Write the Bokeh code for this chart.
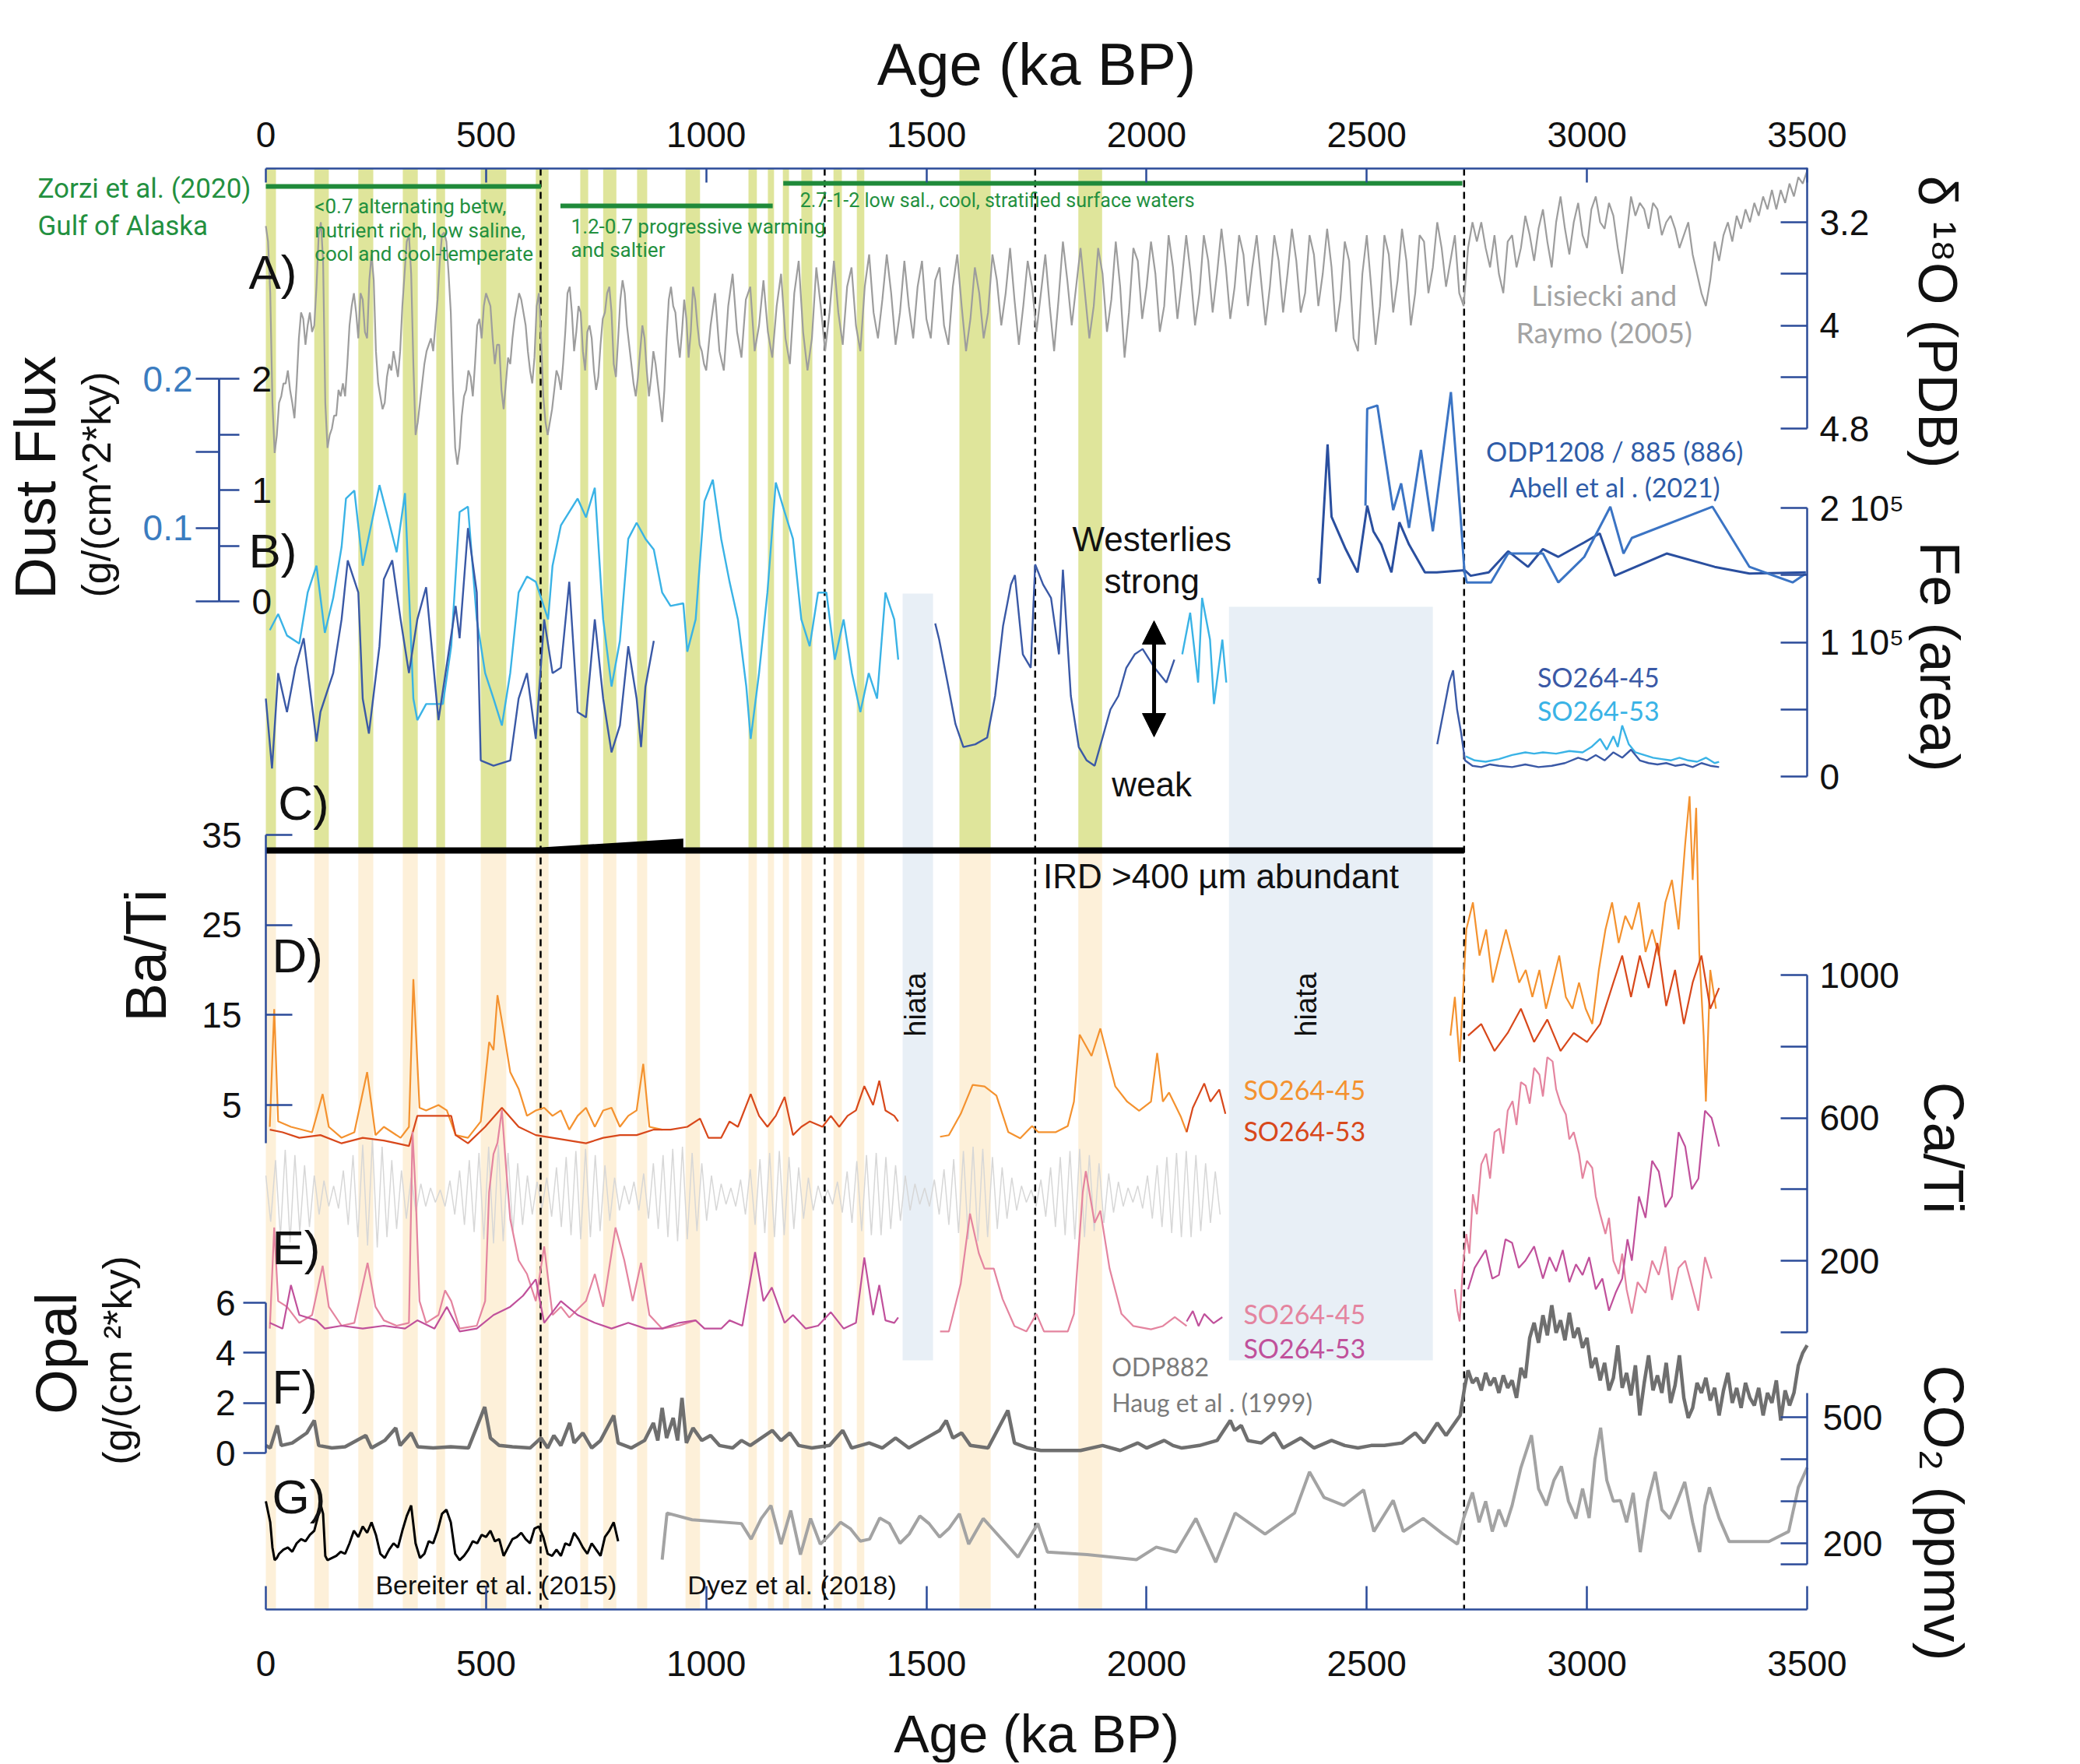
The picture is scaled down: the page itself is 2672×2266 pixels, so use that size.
import numpy as np
from bokeh.plotting import figure
from bokeh.models import Range1d, LinearAxis, FixedTicker, Arrow, NormalHead
from bokeh.embed import file_html
from bokeh.resources import INLINE
from bokeh.core.properties import value

# ======================= DATA =======================
age_ticks = [0, 500, 1000, 1500, 2000, 2500, 3000, 3500]
dashed_ages = [624, 1269, 1747, 2721]
band_start = [0, 110, 210, 311, 387, 488, 613, 714, 766, 843, 953, 1096, 1140, 1174, 1216, 1289, 1342, 1575, 1845]
band_end = [23, 143, 244, 345, 407, 546, 642, 732, 796, 866, 986, 1115, 1154, 1188, 1241, 1308, 1359, 1646, 1899]
hiatus_start = [1446, 2187]
hiatus_end = [1515, 2650]
zorzi_start = [0, 669, 1175]
zorzi_end = [625, 1151, 2717]
ird_age = [0, 626, 948, 948, 2721]
ird_level = [1, 1, 2.4, 1, 1]

# A) LR04 benthic d18O
lr04_age = list(range(0, 1001, 5)) + list(range(1010, 3501, 10))
lr04_val = [
    3.23, 3.35, 3.75, 4.6, 4.99, 4.85, 4.6, 4.55, 4.45, 4.45,
    4.35, 4.5, 4.6, 4.72, 4.45, 4.1, 3.9, 3.95, 4.15, 4.0,
    3.9, 4.05, 4.0, 3.7, 3.3, 3.2, 3.5, 4.6, 4.95, 4.85,
    4.8, 4.7, 4.7, 4.5, 4.55, 4.45, 4.55, 4.3, 4.0, 3.85,
    3.75, 3.9, 4.1, 3.75, 3.8, 4.05, 4.1, 3.65, 3.45, 3.65,
    4.2, 4.45, 4.55, 4.65, 4.6, 4.4, 4.3, 4.35, 4.2, 4.3,
    4.4, 4.2, 3.85, 3.6, 3.35, 3.3, 3.6, 4.3, 4.85, 4.75,
    4.6, 4.45, 4.3, 4.2, 4.15, 4.1, 4.2, 4.0, 3.8, 3.5,
    3.3, 3.28, 3.35, 3.6, 3.9, 4.5, 4.95, 5.08, 4.95, 4.7,
    4.55, 4.5, 4.35, 4.4, 4.55, 4.3, 4.0, 3.95, 4.1, 3.85,
    3.75, 3.8, 3.85, 4.1, 4.3, 4.15, 4.15, 4.5, 4.65, 4.45,
    4.25, 4.3, 4.1, 3.95, 3.85, 3.75, 3.8, 3.9, 4.0, 4.2,
    4.35, 4.45, 4.25, 3.85, 3.75, 4.1, 4.55, 4.75, 4.85, 4.75,
    4.65, 4.5, 4.35, 4.4, 4.5, 4.3, 4.05, 3.75, 3.7, 3.9,
    4.2, 4.05, 3.85, 3.9, 4.2, 4.35, 4.05, 4.0, 4.1, 4.35,
    4.5, 4.4, 4.15, 3.95, 3.9, 3.75, 3.7, 3.9, 4.3, 4.4,
    4.1, 3.8, 3.65, 3.75, 4.0, 4.15, 4.3, 4.45, 4.55, 4.4,
    4.2, 4.0, 4.1, 4.35, 4.55, 4.4, 4.2, 4.3, 4.45, 4.6,
    4.75, 4.5, 4.1, 3.8, 3.7, 3.85, 3.9, 4.1, 4.25, 4.05,
    3.8, 3.95, 4.25, 4.05, 3.7, 3.8, 4.0, 4.15, 4.2, 4.3,
    4.35,
    4.0, 3.75, 4.2, 4.35, 3.85, 3.6, 4.05, 4.25, 3.8, 3.7,
    4.2, 4.0, 3.65, 4.05, 4.25, 3.85, 3.6, 4.1, 4.3, 3.75,
    3.5, 4.05, 4.35, 4.1, 3.55, 3.85, 4.2, 3.9, 3.5, 3.9,
    4.15, 3.7, 3.55, 4.0, 4.2, 3.7, 3.45, 3.9, 4.1, 3.8,
    3.45, 3.75, 4.15, 3.9, 3.5, 3.85, 4.1, 3.7, 3.5, 3.95,
    4.1, 3.65, 3.55, 4.0, 4.15, 3.7, 3.45, 3.85, 4.2, 3.95,
    3.55, 3.75, 4.1, 3.9, 3.45, 3.65, 4.0, 3.75, 3.4, 3.8,
    4.15, 3.85, 3.5, 3.7, 4.05, 3.75, 3.45, 3.85, 4.2, 3.8,
    3.35, 3.65, 4.0, 3.7, 3.4, 3.75, 4.1, 3.85, 3.4, 3.6,
    4.05, 3.8, 3.35, 3.7, 4.25, 3.9, 3.4, 3.5, 3.95, 3.7,
    3.35, 3.6, 4.05, 3.85, 3.3, 3.55, 3.95, 3.65, 3.3, 3.6,
    4.0, 3.75, 3.3, 3.5, 3.9, 3.6, 3.25, 3.55, 3.95, 3.7,
    3.3, 3.45, 3.85, 3.55, 3.3, 3.65, 4.0, 3.7, 3.3, 3.5,
    3.9, 3.6, 3.25, 3.5, 3.9, 3.75, 3.3, 3.45, 3.85, 3.6,
    3.25, 3.55, 4.05, 3.8, 3.35, 3.5, 4.1, 4.2, 3.6, 3.3,
    3.7, 4.15, 3.85, 3.3, 3.45, 3.9, 3.65, 3.25, 3.5, 4.0,
    3.75, 3.3, 3.35, 3.75, 3.55, 3.2, 3.4, 3.7, 3.5, 3.3,
    3.75, 3.85, 3.4, 3.2, 3.35, 3.2, 3.4, 3.55, 3.3, 3.6,
    3.75, 3.35, 3.3, 3.55, 3.4, 3.15, 3.3, 3.5, 3.25, 3.1,
    3.35, 3.55, 3.2, 3.0, 3.25, 3.45, 3.2, 3.05, 3.3, 3.4,
    3.1, 3.0, 3.2, 3.25, 3.05, 3.15, 3.4, 3.6, 3.3, 3.0,
    3.15, 3.05, 3.1, 3.25, 3.05, 3.1, 3.3, 3.2, 3.15, 3.25,
    3.4, 3.3, 3.2, 3.45, 3.6, 3.75, 3.85, 3.65, 3.35, 3.5,
    3.3, 3.2, 3.35, 3.15, 3.25, 3.1, 3.2, 3.05, 3.15, 3.0,
    3.1, 2.95, 3.1, 2.95, 3.05, 2.9, 3.0, 2.85, 2.9, 2.8]

# B) Dust flux ODP1208 / 885 (Abell et al. 2021), g/(cm2 ky)
odp1_age = [2389, 2393, 2411, 2420, 2452, 2479, 2501, 2515, 2533, 2556, 2574, 2596, 2632, 2659, 2722,
            2736, 2777, 2821, 2866, 2900, 2935, 2994, 3029, 3063, 3181, 3290, 3369, 3497]
odp1_val = [0.21, 0.16, 1.41, 0.76, 0.47, 0.26, 0.86, 0.63, 0.51, 0.26, 0.71, 0.51, 0.26, 0.26, 0.28,
            0.23, 0.26, 0.45, 0.31, 0.47, 0.40, 0.53, 0.61, 0.23, 0.43, 0.31, 0.25, 0.26]
odp2_age = [2497, 2501, 2524, 2560, 2578, 2596, 2623, 2650, 2691, 2713, 2722, 2727, 2782, 2821, 2900,
            2935, 2994, 3053, 3083, 3102, 3285, 3369, 3467, 3497]
odp2_val = [0.86, 1.73, 1.76, 0.82, 1.06, 0.66, 1.36, 0.63, 1.88, 0.76, 0.26, 0.17, 0.17, 0.43, 0.43,
            0.17, 0.40, 0.85, 0.43, 0.57, 0.85, 0.31, 0.17, 0.25]

# B) Fe (area, x1e5) SO264-45
fe45_age_a = [0, 14, 28, 48, 67, 86, 115, 124, 153, 172, 186, 210, 220, 234, 258, 268, 287, 306, 325, 344,
              364, 392, 431, 440, 459, 479, 488, 517, 555, 574, 593, 613, 632, 651, 670, 689, 708, 727, 747, 766,
              785, 804, 823, 842, 852, 862, 881]
fe45_val_a = [0.58, 0.06, 0.77, 0.48, 0.81, 1.03, 0.26, 0.48, 0.77, 1.17, 1.61, 1.37, 0.58, 0.32, 0.97, 1.47, 1.61, 1.17, 0.77, 1.17,
              1.41, 0.42, 1.27, 1.03, 1.85, 1.37, 0.12, 0.08, 0.12, 0.58, 0.77, 0.28, 1.17, 0.77, 0.81, 1.45, 0.48, 0.44, 1.17, 0.58,
              0.18, 0.38, 0.97, 0.58, 0.22, 0.67, 1.01]
fe45_age_b = [1520, 1529, 1548, 1566, 1584, 1611, 1638, 1656, 1674, 1692, 1701, 1719, 1737, 1747, 1765, 1783, 1801, 1810, 1828, 1846,
              1864, 1882, 1900, 1918, 1936, 1954, 1973, 1991, 2018, 2045, 2063]
fe45_val_b = [1.14, 1.02, 0.70, 0.39, 0.22, 0.24, 0.29, 0.60, 1.12, 1.43, 1.50, 0.91, 0.81, 1.58, 1.43, 1.33, 0.91, 1.54, 0.60, 0.22,
              0.12, 0.08, 0.29, 0.50, 0.60, 0.81, 0.91, 0.95, 0.81, 0.70, 0.87]
fe45_age_c = [2660, 2687, 2696, 2705, 2714, 2723, 2740, 2760, 2780, 2800, 2830, 2860, 2890, 2920, 2950, 2980, 3000, 3020, 3040, 3060,
              3080, 3100, 3120, 3140, 3160, 3180, 3200, 3220, 3240, 3260, 3280, 3300]
fe45_val_c = [0.24, 0.70, 0.79, 0.50, 0.33, 0.12, 0.08, 0.07, 0.09, 0.08, 0.07, 0.09, 0.07, 0.08, 0.10, 0.14, 0.12, 0.16, 0.12, 0.18,
              0.14, 0.20, 0.12, 0.10, 0.09, 0.10, 0.08, 0.09, 0.07, 0.10, 0.08, 0.07]
# B) Fe SO264-53
fe53_age_a = [9, 28, 48, 76, 95, 115, 134, 153, 172, 182, 201, 220, 239, 258, 277, 297, 316, 335, 344, 364,
              402, 421, 440, 459, 479, 498, 517, 536, 555, 574, 593, 613, 641, 651, 670, 689, 708, 727, 747, 766,
              785, 804, 823, 842, 862, 881, 900, 919, 948, 957, 976, 996, 1015, 1034, 1053, 1072, 1091, 1101, 1120, 1139,
              1158, 1178, 1197, 1216, 1235, 1254, 1273, 1292, 1312, 1331, 1350, 1369, 1388, 1407, 1427, 1436]
fe53_val_a = [1.09, 1.21, 1.05, 0.99, 1.37, 1.57, 1.07, 1.33, 1.71, 2.07, 2.13, 1.57, 1.87, 2.17, 1.93, 1.67, 2.11, 0.58, 0.42, 0.54,
              0.54, 0.97, 1.97, 2.01, 1.17, 0.77, 0.58, 0.38, 0.77, 1.37, 1.49, 1.45, 1.17, 1.57, 1.87, 1.97, 2.07, 1.93, 2.15, 1.17,
              0.67, 1.01, 1.77, 1.89, 1.77, 1.69, 1.37, 1.27, 1.29, 0.93, 1.17, 2.05, 2.21, 1.77, 1.45, 1.17, 0.67, 0.28, 0.77, 1.37,
              2.19, 1.97, 1.77, 1.17, 0.97, 1.37, 1.37, 0.87, 1.17, 0.77, 0.48, 0.77, 0.58, 1.37, 1.17, 0.87]
fe53_age_b = [2081, 2099, 2117, 2126, 2144, 2153, 2172, 2181]
fe53_val_b = [0.91, 1.22, 0.70, 1.33, 1.02, 0.54, 1.02, 0.70]
fe53_age_c = [2725, 2745, 2770, 2800, 2830, 2860, 2880, 2900, 2930, 2960, 2990, 3010, 3030, 3045, 3060, 3070, 3080, 3095, 3110, 3130,
              3150, 3170, 3190, 3210, 3230, 3250, 3270, 3290, 3300]
fe53_val_c = [0.15, 0.12, 0.11, 0.13, 0.16, 0.18, 0.17, 0.18, 0.17, 0.19, 0.18, 0.22, 0.28, 0.20, 0.30, 0.22, 0.38, 0.24, 0.18, 0.16,
              0.14, 0.13, 0.12, 0.14, 0.12, 0.11, 0.14, 0.10, 0.11]

# D) Ba/Ti
ba45_age_a = [9, 19, 28, 57, 105, 129, 143, 172, 201, 230, 249, 268, 306, 325, 335, 349, 364, 392, 411, 431,
              459, 488, 507, 517, 526, 541, 555, 574, 593, 613, 632, 651, 670, 689, 708, 727, 747, 766, 785, 804,
              823, 842, 857, 871, 900]
ba45_val_a = [2.58, 15.65, 3.18, 2.58, 1.97, 6.22, 2.58, 1.36, 1.97, 8.66, 1.66, 2.58, 1.36, 2.58, 18.99, 4.70, 4.4, 5.0, 4.4, 1.66,
              1.36, 3.18, 12.0, 11.1, 17.2, 12.9, 8.66, 6.8, 3.8, 4.4, 4.7, 3.8, 4.4, 2.27, 3.8, 4.7, 2.58, 4.4, 4.7, 2.58,
              3.8, 4.4, 9.57, 2.58, 2.27]
ba45_age_b = [1531, 1551, 1578, 1605, 1632, 1659, 1686, 1713, 1740, 1754, 1794, 1821, 1835, 1848, 1875, 1895, 1929, 1956, 1983, 2010,
              2024, 2037, 2051, 2078, 2091]
ba45_val_b = [1.48, 1.65, 4.02, 7.23, 7.06, 6.05, 1.99, 1.31, 2.66, 1.99, 1.99, 2.66, 5.37, 12.82, 10.45, 13.5, 7.06, 5.37, 4.36, 5.37,
              10.79, 5.37, 6.39, 3.68, 1.99]
ba45_age_c = [2690, 2700, 2711, 2726, 2741, 2756, 2771, 2786, 2801, 2816, 2831, 2846, 2861, 2876, 2892, 2907, 2922, 2937, 2952, 2967,
              2982, 2997, 3012, 3027, 3042, 3057, 3072, 3087, 3102, 3118, 3133, 3148, 3163, 3178, 3193, 3208, 3223, 3233, 3240, 3248,
              3255, 3265, 3270, 3280, 3293]
ba45_val_c = [12.7, 17.0, 9.8, 24.5, 27.5, 21.6, 24.5, 18.6, 21.6, 24.5, 21.6, 18.6, 20.0, 17.0, 20.0, 15.7, 18.6, 21.6, 17.0, 15.7,
              18.6, 15.7, 14.0, 20.0, 24.5, 27.5, 23.0, 26.0, 24.5, 27.5, 22.0, 24.5, 21.6, 27.5, 30.0, 24.5, 34.0, 39.3, 30.0, 38.0,
              22.0, 12.7, 5.4, 20.0, 15.7]
ba53_age_a = [9, 38, 76, 124, 172, 220, 268, 297, 325, 344, 383, 421, 431, 459, 498, 536, 574, 613, 651, 689,
              727, 766, 804, 842, 881, 919, 957, 986, 1005, 1034, 1053, 1072, 1101, 1120, 1139, 1158, 1178, 1197, 1216, 1235,
              1264, 1283, 1302, 1321, 1340, 1359, 1379, 1393, 1407, 1427, 1436]
ba53_val_a = [2.27, 1.97, 1.36, 1.66, 0.75, 1.36, 1.06, 0.75, 0.45, 3.8, 3.8, 3.8, 1.66, 0.75, 2.58, 4.7, 2.58, 1.66, 1.36, 1.06,
              0.75, 1.36, 1.66, 1.66, 2.27, 2.27, 2.58, 3.5, 1.36, 1.36, 3.18, 2.58, 6.22, 3.8, 2.58, 3.8, 5.9, 1.66, 2.58, 3.18,
              2.58, 3.8, 2.58, 3.8, 4.4, 7.1, 5.0, 7.7, 4.4, 3.8, 3.18]
ba53_age_b = [2091, 2105, 2118, 2131, 2145, 2165, 2179]
ba53_val_b = [1.99, 4.69, 6.05, 7.4, 5.37, 6.72, 4.02]
ba53_age_c = [2730, 2760, 2790, 2820, 2850, 2880, 2910, 2940, 2970, 3000, 3030, 3060, 3080, 3100, 3120, 3140, 3160, 3180, 3200, 3220,
              3240, 3260, 3280, 3300]
ba53_val_c = [12.7, 14.0, 11.0, 13.0, 15.7, 12.0, 14.5, 11.0, 13.0, 12.0, 14.0, 18.6, 21.6, 17.0, 21.6, 18.0, 23.0, 16.0, 20.0, 14.0,
              18.6, 21.6, 15.7, 18.0]

# E) Ca/Ti
ca45_age_a = [9, 19, 28, 48, 76, 105, 129, 143, 172, 201, 231, 249, 268, 297, 325, 333, 340, 349, 364, 392,
              407, 421, 440, 479, 498, 507, 517, 526, 536, 545, 555, 574, 593, 613, 632, 651, 670, 689, 727, 747,
              766, 794, 814, 833, 852, 871, 900, 938, 976]
ca45_val_a = [10, 293, 87, 71, 26, 48, 186, 71, 18, 26, 194, 71, 33, 18, 26, 561, 392, 87, 26, 48,
              117, 87, 10, 18, 87, 392, 499, 530, 622, 469, 316, 201, 163, 87, 240, 48, 71, 41, 87, 163,
              71, 293, 201, 87, 194, 48, 10, 18, 33]
ca45_age_b = [1531, 1551, 1578, 1599, 1619, 1632, 1653, 1673, 1700, 1727, 1750, 1767, 1821, 1835, 1855, 1862, 1882, 1895, 1916, 1943,
              1970, 2010, 2037, 2064, 2091]
ca45_val_b = [2, 2, 136, 332, 221, 178, 178, 93, 17, 2, 51, 2, 2, 51, 391, 451, 306, 340, 178, 51,
              17, 8, 17, 42, 17]
ca45_age_c = [2700, 2706, 2711, 2718, 2726, 2733, 2741, 2750, 2760, 2771, 2780, 2790, 2801, 2810, 2820, 2831, 2840, 2850, 2861, 2870,
              2880, 2892, 2900, 2910, 2922, 2930, 2940, 2952, 2960, 2970, 2982, 2990, 3000, 3012, 3020, 3030, 3042, 3050, 3060, 3072,
              3080, 3090, 3102, 3115, 3133, 3148, 3163, 3178, 3193, 3208, 3223, 3238, 3253, 3268, 3283]
ca45_val_c = [120, 60, 30, 180, 275, 220, 386, 330, 470, 500, 430, 560, 570, 500, 620, 647, 580, 700, 690, 640,
              740, 721, 660, 770, 758, 680, 640, 610, 540, 560, 500, 430, 480, 460, 380, 330, 275, 320, 200, 163,
              220, 120, 52, 140, 110, 200, 160, 240, 90, 180, 200, 130, 60, 210, 150]
ca53_age_a = [9, 38, 57, 76, 115, 134, 172, 220, 268, 316, 344, 383, 411, 440, 479, 517, 555, 584, 613, 632,
              670, 708, 747, 785, 823, 862, 900, 938, 976, 996, 1034, 1053, 1082, 1111, 1130, 1149, 1178, 1197, 1226, 1254,
              1283, 1312, 1340, 1359, 1379, 1393, 1407, 1427, 1436]
ca53_val_a = [26, 10, 132, 48, 33, 10, 18, 10, 18, 10, 33, 10, 71, 2, 10, 48, 71, 102, 148, 26,
              87, 48, 26, 10, 26, 10, 10, 26, 33, 10, 10, 33, 18, 224, 87, 125, 26, 48, 10, 18,
              56, 10, 26, 209, 48, 132, 33, 26, 41]
ca53_age_b = [2091, 2105, 2118, 2131, 2152, 2172]
ca53_val_b = [30, 59, 17, 51, 25, 42]
ca53_age_c = [2730, 2745, 2770, 2785, 2800, 2815, 2830, 2845, 2860, 2880, 2900, 2915, 2930, 2945, 2960, 2975, 2990, 3005, 3020, 3035,
              3050, 3065, 3080, 3092, 3102, 3118, 3133, 3148, 3163, 3178, 3193, 3208, 3223, 3238, 3253, 3268, 3283, 3300]
ca53_val_c = [120, 180, 230, 150, 160, 260, 250, 180, 200, 240, 150, 210, 170, 230, 140, 190, 160, 210, 120, 150,
              60, 110, 150, 260, 200, 380, 320, 480, 450, 350, 380, 560, 520, 400, 430, 620, 600, 520]

# summer insolation (light grey background curve), W/m2, every 11 ka from 0
insol_val = [
    500, 455, 515, 440, 525, 435, 520, 445, 510,
    450, 500, 462, 495, 470, 490, 468, 505, 452,
    520, 440, 530, 432, 535, 430, 528, 440, 515,
    448, 505, 458, 498, 465, 492, 470, 488, 474,
    486, 470, 495, 462, 505, 452, 515, 445, 522,
    438, 528, 434, 530, 436, 522, 444, 512, 452,
    500, 462, 494, 468, 498, 460, 508, 450, 518,
    442, 524, 438, 526, 440, 520, 446, 510, 456,
    498, 466, 490, 472, 494, 466, 502, 458, 512,
    448, 520, 440, 526, 436, 528, 438, 522, 446,
    512, 456, 500, 466, 492, 472, 488, 470, 496,
    462, 506, 452, 516, 444, 522, 440, 524, 442,
    518, 448, 508, 458, 498, 466, 490, 474, 486,
    472, 494, 464, 504, 454, 514, 446, 520, 442,
    522, 442, 518, 448, 510, 456, 500, 466, 492,
    472, 488, 470, 496, 462, 506, 452, 516, 444,
    524, 438, 528, 436, 526, 440, 518, 448, 508,
    458, 498, 466, 490, 474, 486, 470, 496, 460,
    508, 450, 518, 442, 524, 438, 526, 440, 520,
    446, 512, 454, 502, 464, 494, 470, 488, 474,
    490, 468, 500, 458, 510, 450, 518, 444, 522,
    440, 524, 440, 520, 446, 512, 454, 504, 462]
insol_age = [11 * i for i in range(len(insol_val))]

# F) Opal flux ODP882 (Haug et al. 1999)
opal_age_a = [0, 10, 26, 35, 60, 93, 110, 120, 150, 180, 227, 240, 270, 295, 305, 330, 345, 380, 420, 460,
              497, 510, 530, 560, 600, 625, 640, 654, 670, 690, 700, 720, 740, 760, 790, 800, 830, 860, 880, 890,
              900, 910, 925, 935, 945, 955, 970, 990, 1010, 1030, 1060, 1080, 1100, 1150, 1170, 1190, 1210, 1240, 1280, 1310,
              1330, 1370, 1400, 1430, 1460, 1490, 1530, 1545, 1560, 1580, 1600, 1640, 1685, 1700, 1730, 1760, 1800, 1850, 1900, 1940,
              1980, 2000, 2040, 2060, 2080, 2120, 2160, 2190, 2200, 2215, 2230, 2260, 2290, 2310, 2350, 2380, 2420, 2450, 2480, 2510,
              2540, 2580, 2610, 2630, 2660, 2680, 2700, 2712]
opal_val_a = [0.3, 0.2, 1.1, 0.3, 0.4, 0.8, 1.3, 0.3, 0.2, 0.25, 0.7, 0.2, 0.5, 1.0, 0.3, 0.8, 0.25, 0.2, 0.25, 0.2,
              1.84, 0.6, 0.3, 0.25, 0.2, 0.6, 0.2, 0.7, 0.3, 1.2, 0.4, 0.8, 0.2, 0.5, 1.5, 0.4, 0.2, 0.5, 1.2, 0.5,
              1.8, 0.6, 1.4, 0.5, 2.2, 0.4, 1.0, 0.5, 0.7, 0.3, 0.2, 0.5, 0.3, 0.9, 0.5, 0.8, 0.3, 0.2, 0.3, 0.9,
              0.2, 0.4, 0.2, 0.6, 0.2, 0.5, 0.9, 1.3, 0.6, 0.8, 0.3, 0.2, 1.7, 0.4, 0.2, 0.1, 0.1, 0.1, 0.3, 0.1,
              0.4, 0.2, 0.5, 0.3, 0.2, 0.3, 0.5, 1.3, 0.9, 1.1, 0.5, 0.4, 0.8, 0.2, 0.6, 0.2, 0.5, 0.3, 0.2, 0.3,
              0.3, 0.4, 0.8, 0.4, 1.2, 0.7, 1.2, 1.5]
opal_age_b = [2722] + list(range(2730, 3501, 10))
opal_val_b = [2.6,
              3.3, 2.8, 3.0, 2.5, 3.2, 2.7, 3.0, 2.4, 3.1, 2.6,
              2.9, 2.2, 3.4, 3.0, 4.6, 5.2, 4.4, 5.5, 4.7, 5.9,
              4.8, 5.3, 4.5, 5.6, 4.6, 5.0, 4.2, 4.6, 3.4, 3.8,
              2.9, 3.6, 2.5, 3.0, 4.3, 2.6, 3.2, 2.3, 3.5, 1.5,
              2.8, 3.9, 2.5, 3.1, 2.4, 3.6, 2.0, 2.7, 3.9, 2.2,
              1.4, 1.8, 2.8, 2.4, 3.0, 2.1, 2.6, 1.5, 2.5, 3.2,
              2.0, 2.6, 1.8, 2.8, 2.2, 1.9, 2.6, 1.5, 2.4, 2.0,
              2.9, 1.3, 2.5, 1.9, 2.4, 3.5, 4.0, 4.3]

# G) CO2 (ppmv)
bere_age = [0, 5, 10, 15, 20, 25, 30, 40, 50, 60, 70, 80, 90, 100, 110, 120, 125, 130, 135, 140,
            150, 160, 170, 180, 190, 200, 210, 220, 230, 240, 250, 260, 270, 280, 290, 300, 310, 320, 330, 340,
            350, 360, 370, 380, 390, 400, 410, 420, 430, 440, 450, 460, 470, 480, 490, 500, 510, 520, 530, 540,
            550, 560, 570, 580, 590, 600, 610, 620, 630, 640, 650, 660, 670, 680, 690, 700, 710, 720, 730, 740,
            750, 760, 770, 780, 790, 800]
bere_val = [300, 275, 250, 190, 160, 165, 175, 185, 190, 180, 200, 210, 205, 220, 230, 270, 290, 270, 170, 160,
            165, 170, 180, 175, 200, 230, 215, 240, 225, 250, 220, 175, 165, 185, 200, 190, 230, 265, 290, 200,
            165, 175, 205, 200, 230, 270, 280, 250, 175, 160, 170, 185, 205, 200, 220, 215, 230, 205, 210, 170,
            190, 210, 215, 225, 210, 200, 235, 240, 215, 175, 170, 185, 170, 200, 195, 225, 210, 190, 175, 200,
            185, 170, 215, 230, 250, 205]
dyez_age = [900, 911, 968, 1080, 1102, 1125, 1147, 1170, 1192, 1214, 1237, 1259, 1282, 1305, 1327, 1350, 1371, 1394, 1416, 1440,
            1461, 1485, 1506, 1530, 1551, 1575, 1596, 1629, 1708, 1753, 1775, 1865, 1977, 2022, 2067, 2112, 2157, 2201, 2269, 2336,
            2370, 2403, 2448, 2493, 2516, 2560, 2583, 2628, 2673, 2706, 2720, 2740, 2755, 2770, 2785, 2800, 2815, 2830, 2850, 2874,
            2890, 2908, 2925, 2942, 2958, 2975, 2990, 3005, 3018, 3031, 3045, 3060, 3076, 3090, 3105, 3121, 3138, 3155, 3170, 3188,
            3205, 3222, 3240, 3256, 3268, 3278, 3300, 3323, 3413, 3458, 3480, 3500]
dyez_val = [161, 272, 256, 247, 210, 259, 290, 198, 278, 173, 259, 198, 222, 250, 235, 205, 210, 260, 247, 200,
            222, 265, 247, 215, 235, 270, 198, 259, 167, 247, 179, 173, 161, 191, 179, 259, 155, 272, 222, 272,
            370, 309, 290, 327, 228, 302, 228, 259, 222, 198, 260, 321, 250, 300, 228, 280, 240, 290, 380, 457,
            330, 290, 350, 383, 300, 259, 330, 260, 400, 475, 350, 300, 302, 250, 320, 179, 300, 370, 280, 259,
            300, 346, 250, 179, 290, 333, 260, 204, 204, 228, 333, 380]

# ======================= LAYOUT =======================
W, H = 2670, 2264
X0 = 341.0                 # screen x of age 0
KX = 1980.0 / 3500.0       # px per ka
NAVY = "#2b4b99"
ARIAL = "Liberation Sans"
HUM = "Lato"

p = figure(width=W, height=H, output_backend="svg", toolbar_location=None,
           x_range=Range1d(-X0 / KX, (W - X0) / KX), y_range=Range1d(H, 0),
           x_axis_location=None, y_axis_location=None,
           min_border=0, min_border_left=0, min_border_right=0, min_border_top=0, min_border_bottom=0)
p.outline_line_color = None
p.background_fill_color = "white"
p.border_fill_color = "white"
for g in p.grid:
    g.visible = False


def prange(v1, y1, v2, y2):
    c1 = (y2 - y1) / (v2 - v1)
    c0 = y1 - c1 * v1
    return Range1d(start=(H - c0) / c1, end=-c0 / c1)


p.extra_y_ranges = {
    "d18o": prange(3.2, 285, 4.8, 550),
    "dust": prange(0, 772, 2, 486),
    "fe": prange(0, 997, 2, 652),
    "ird": prange(0, 1096, 1, 1088),
    "bati": prange(35, 1072, 5, 1419),
    "cati": prange(1000, 1252, 200, 1619),
    "insol": prange(480, 1536, 530, 1470),
    "opal": prange(0, 1866, 6, 1673),
    "co2": prange(500, 1820, 200, 1982),
}

Y_TOP, Y_SPLIT, Y_BOT = 216, 1095, 2067

# shaded glacial/interglacial bands
p.quad(left=band_start, right=band_end, top=Y_TOP, bottom=Y_SPLIT, fill_color="#dfe59b", line_color=None)
p.quad(left=band_start, right=band_end, top=Y_SPLIT, bottom=Y_BOT, fill_color="#fdf0d9", line_color=None)
# hiatus boxes
p.quad(left=hiatus_start, right=hiatus_end, top=[762, 779], bottom=1747, fill_color="#e8eff6", line_color=None)

# insolation (background)
p.line(insol_age, insol_val, y_range_name="insol", line_color="#d7d7d7", line_width=1.5)

# dashed boundaries
p.segment(x0=dashed_ages, y0=Y_TOP, x1=dashed_ages, y1=Y_BOT, line_color="black", line_width=2.5, line_dash="9 6")

# Zorzi et al. intervals
p.segment(x0=zorzi_start, y0=[239, 264, 235], x1=zorzi_end, y1=[239, 264, 235], line_color="#1f8a3a", line_width=6)

# A) LR04
p.line(lr04_age, lr04_val, y_range_name="d18o", line_color="#9d9d9d", line_width=2.2)

# B) dust flux ODP
p.line(odp1_age, odp1_val, y_range_name="dust", line_color="#2a4f9f", line_width=3)
p.line(odp2_age, odp2_val, y_range_name="dust", line_color="#3b74c4", line_width=3)

# B) Fe
C45B, C53B = "#3a59a6", "#3ab3e6"
p.line(fe53_age_a, fe53_val_a, y_range_name="fe", line_color=C53B, line_width=2.4)
p.line(fe53_age_b, fe53_val_b, y_range_name="fe", line_color=C53B, line_width=2.4)
p.line(fe53_age_c, fe53_val_c, y_range_name="fe", line_color=C53B, line_width=2.4)
p.line(fe45_age_a, fe45_val_a, y_range_name="fe", line_color=C45B, line_width=2.4)
p.line(fe45_age_b, fe45_val_b, y_range_name="fe", line_color=C45B, line_width=2.4)
p.line(fe45_age_c, fe45_val_c, y_range_name="fe", line_color=C45B, line_width=2.4)

# C) IRD
p.varea(x=ird_age, y1=0, y2=ird_level, y_range_name="ird", fill_color="black")

# D) Ba/Ti
C45O, C53O = "#f4922f", "#d8481b"
for a, v in [(ba45_age_a, ba45_val_a), (ba45_age_b, ba45_val_b), (ba45_age_c, ba45_val_c)]:
    p.line(a, v, y_range_name="bati", line_color=C45O, line_width=2.2)
for a, v in [(ba53_age_a, ba53_val_a), (ba53_age_b, ba53_val_b), (ba53_age_c, ba53_val_c)]:
    p.line(a, v, y_range_name="bati", line_color=C53O, line_width=2.2)

# E) Ca/Ti
C45P, C53P = "#e4849f", "#c0509b"
for a, v in [(ca45_age_a, ca45_val_a), (ca45_age_b, ca45_val_b), (ca45_age_c, ca45_val_c)]:
    p.line(a, v, y_range_name="cati", line_color=C45P, line_width=2.2)
for a, v in [(ca53_age_a, ca53_val_a), (ca53_age_b, ca53_val_b), (ca53_age_c, ca53_val_c)]:
    p.line(a, v, y_range_name="cati", line_color=C53P, line_width=2.2)

# F) opal
p.line(opal_age_a + opal_age_b, opal_val_a + opal_val_b, y_range_name="opal", line_color="#6f6f6f", line_width=4.5)

# G) CO2
p.line(bere_age, bere_val, y_range_name="co2", line_color="black", line_width=3)
p.line(dyez_age, dyez_val, y_range_name="co2", line_color="#a3a3a3", line_width=4)

# ======================= AXES =======================
def axis_common(ax, line_color=NAVY, label_color="#111111"):
    ax.minor_tick_line_color = None
    ax.axis_line_color = line_color
    ax.axis_line_width = 2.5
    ax.major_tick_line_color = line_color
    ax.major_tick_line_width = 2.5
    ax.major_label_text_font = ARIAL
    ax.major_label_text_font_size = "46px"
    ax.major_label_text_color = label_color
    return ax


top = axis_common(LinearAxis(fixed_location=Y_TOP, bounds=(0, 3500), ticker=FixedTicker(ticks=age_ticks),
                             major_tick_in=18, major_tick_out=0, major_label_standoff=28))
p.add_layout(top, "above")
bot = axis_common(LinearAxis(fixed_location=Y_BOT, bounds=(0, 3500), ticker=FixedTicker(ticks=age_ticks),
                             major_tick_in=30, major_tick_out=0, major_label_standoff=53))
p.add_layout(bot, "below")


def vaxis(side, rname, loc, bounds, ticks, overrides, tin=0, tout=0, standoff=16,
          line_color=NAVY, label_color="#111111"):
    ax = LinearAxis(y_range_name=rname, fixed_location=loc, bounds=bounds,
                    ticker=FixedTicker(ticks=ticks), major_label_overrides=overrides,
                    major_tick_in=tin, major_tick_out=tout, major_label_standoff=standoff)
    axis_common(ax, line_color, label_color)
    p.add_layout(ax, side)
    return ax


vaxis("right", "d18o", 3500, (2.78, 4.8), [3.2, 3.6, 4.0, 4.4, 4.8],
      {3.2: "3.2", 3.6: "", 4.0: "4", 4.4: "", 4.8: "4.8"}, tin=34, standoff=16)
vaxis("right", "fe", 3500, (0.0, 2.0), [0.0, 0.5, 1.0, 1.5, 2.0],
      {0.0: "0", 0.5: "", 1.0: "1 10\u2075", 1.5: "", 2.0: "2 10\u2075"}, tin=34, standoff=16)
vaxis("right", "cati", 3500, (0.0, 1000.0), [0.0, 200.0, 400.0, 600.0, 800.0, 1000.0],
      {0.0: "", 200.0: "200", 400.0: "", 600.0: "600", 800.0: "", 1000.0: "1000"}, tin=34, standoff=16)
vaxis("right", "co2", 3500, (150.0, 557.0), [150.0, 200.0, 300.0, 400.0, 500.0],
      {150.0: "", 200.0: "200", 300.0: "", 400.0: "", 500.0: "500"}, tin=34, standoff=20)
vaxis("left", "bati", 0, (0.8, 35.0), [5.0, 15.0, 25.0, 35.0],
      {5.0: "5", 15.0: "15", 25.0: "25", 35.0: "35"}, tin=34, standoff=31)
vaxis("left", "opal", 0, (0.0, 6.0), [0.0, 2.0, 4.0, 6.0],
      {0.0: "0", 2.0: "2", 4.0: "4", 6.0: "6"}, tout=29, standoff=10)
DUST_X = (281 - X0) / KX
vaxis("right", "dust", DUST_X, (0.0, 2.0), [0.0, 0.5, 1.0, 1.5, 2.0],
      {0.0: "0", 0.5: "", 1.0: "1", 1.5: "", 2.0: "2"}, tout=26, standoff=16)
vaxis("left", "dust", DUST_X, (0.0, 2.0), [0.0, 0.66, 1.34, 2.0],
      {0.0: "", 0.66: "0.1", 1.34: "", 2.0: "0.2"}, tout=30, standoff=4, label_color="#3b7cc0")

# ======================= TEXT =======================
def txt(x, y, s, size, color="#111111", font=ARIAL, align="left", baseline="middle", angle=0.0):
    p.text(x=[x], y=[y], text=[s], text_font=value(font), text_font_size=f"{size}px",
           text_color=color, text_align=align, text_baseline=baseline, angle=angle)


def ax_age(xscreen):
    return (xscreen - X0) / KX


# axis titles
txt(1750, 82, "Age (ka BP)", 76, align="center")
txt(1750, 2226, "Age (ka BP)", 68, align="center")
txt(ax_age(45), 613, "Dust Flux", 74, align="center", angle=np.pi / 2)
txt(ax_age(123), 622, "(g/(cm^2*ky)", 52, align="center", angle=np.pi / 2)
txt(ax_age(187), 1227, "Ba/Ti", 74, align="center", angle=np.pi / 2)
txt(ax_age(72), 1738, "Opal", 74, align="center", angle=np.pi / 2)
txt(ax_age(150), 1747, "(g/(cm \u00b2*ky)", 52, align="center", angle=np.pi / 2)
txt(ax_age(2488), 413, "\u03b4 \u00b9\u2078O (PDB)", 70, align="center", angle=-np.pi / 2)
txt(ax_age(2491), 843, "Fe (area)", 72, align="center", angle=-np.pi / 2)
txt(ax_age(2496), 1474, "Ca/Ti", 72, align="center", angle=-np.pi / 2)
txt(ax_age(2496), 1943, "CO\u2082 (ppmv)", 72, align="center", angle=-np.pi / 2)

# panel letters
for lab, xa, yc in [("A)", -39, 349), ("B)", -39, 707), ("C)", 28, 1031), ("D)", 14, 1227),
                    ("E)", 14, 1602), ("F)", 14, 1781), ("G)", 14, 1922)]:
    txt(xa, yc, lab, 62)

# Zorzi annotations
GREEN = "#23903f"
txt(ax_age(48), 242, "Zorzi et al. (2020)", 35, color=GREEN, font="Roboto")
txt(ax_age(48), 290, "Gulf of Alaska", 35, color=GREEN, font="Roboto")
txt(111, 264, "<0.7 alternating betw,", 26, color=GREEN, font="Roboto")
txt(111, 295, "nutrient rich, low saline,", 26, color=GREEN, font="Roboto")
txt(111, 325, "cool and cool-temperate", 26, color=GREEN, font="Roboto")
txt(693, 290, "1.2-0.7 progressive warming", 26, color=GREEN, font="Roboto")
txt(693, 320, "and saltier", 26, color=GREEN, font="Roboto")
txt(1213, 257, "2.7-1-2 low sal., cool, stratified surface waters", 25, color=GREEN, font="Roboto")

# data source labels
txt(3039, 378, "Lisiecki and", 37, color="#a3a3a3", font=HUM, align="center")
txt(3039, 426, "Raymo (2005)", 37, color="#a3a3a3", font=HUM, align="center")
txt(3063, 579, "ODP1208 / 885 (886)", 34, color="#2e5ca8", font=HUM, align="center")
txt(3063, 625, "Abell et al . (2021)", 34, color="#2e5ca8", font=HUM, align="center")
txt(3026, 869, "SO264-45", 34, color=C45B, font=HUM, align="center")
txt(3026, 912, "SO264-53", 34, color=C53B, font=HUM, align="center")
txt(2012, 692, "Westerlies", 44, align="center")
txt(2012, 746, "strong", 44, align="center")
txt(2012, 1007, "weak", 44, align="center")
txt(2169, 1125, "IRD >400 \u00b5m abundant", 44, align="center")
txt(1476, 1290, "hiata", 38, align="center", angle=np.pi / 2)
txt(2363, 1290, "hiata", 38, align="center", angle=np.pi / 2)
txt(2220, 1399, "SO264-45", 34, color=C45O, font=HUM)
txt(2220, 1452, "SO264-53", 34, color=C53O, font=HUM)
txt(2220, 1687, "SO264-45", 34, color=C45P, font=HUM)
txt(2220, 1731, "SO264-53", 34, color=C53P, font=HUM)
txt(1921, 1755, "ODP882", 32, color="#7b7b7b", font=HUM)
txt(1921, 1801, "Haug et al . (1999)", 32, color="#7b7b7b", font=HUM)
txt(523, 2035, "Bereiter et al. (2015)", 34, align="center")
txt(1195, 2035, "Dyez et al. (2018)", 34, align="center")

# westerlies double arrow
p.add_layout(Arrow(start=NormalHead(size=30, fill_color="black", line_color="black"),
                   end=NormalHead(size=30, fill_color="black", line_color="black"),
                   x_start=2017, y_start=946, x_end=2017, y_end=797,
                   line_color="black", line_width=5))

open("out.html", "w").write(file_html(p, INLINE))
